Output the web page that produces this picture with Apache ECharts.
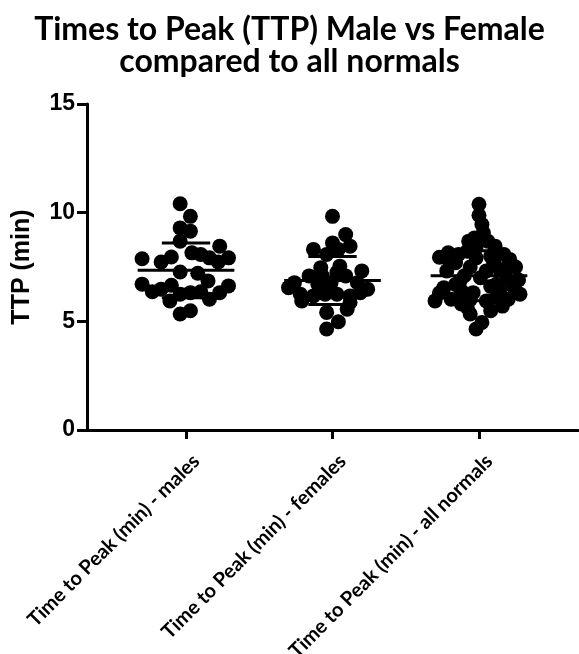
<!DOCTYPE html>
<html lang="en">
<head>
<meta charset="UTF-8">
<title>TTP</title>
<script src="https://cdn.jsdelivr.net/npm/echarts@6.0.0/dist/echarts.min.js"></script>
<style>
  html, body { margin: 0; padding: 0; background: #fff; }
  #chart { width: 579px; height: 654px; }
</style>
</head>
<body>
<div id="chart"></div>
<script>
// group names (x axis)
var groups = ['Time to Peak (min) - males', 'Time to Peak (min) - females', 'Time to Peak (min) - all normals'];

// points: [jitter offset from the group centre, TTP value]
var males = [
  [-0.04, 10.41], [0.03, 9.83], [-0.04, 9.30], [0.03, 9.15], [-0.04, 8.69],
  [0.23, 8.46], [-0.30, 7.88], [-0.17, 7.73], [-0.10, 7.96], [0.04, 8.15],
  [0.10, 8.08], [0.16, 7.92], [0.22, 7.73], [0.29, 7.92], [-0.04, 7.27],
  [0.08, 7.21], [0.15, 6.86], [-0.30, 6.71], [-0.23, 6.36], [-0.17, 6.48],
  [-0.10, 6.66], [-0.11, 5.94], [-0.04, 6.25], [0.03, 6.32], [0.10, 6.36],
  [0.16, 6.02], [0.23, 6.32], [0.29, 6.63], [-0.04, 5.34], [0.03, 5.49]
];
var females = [
  [0.00, 9.83], [0.09, 8.99], [0.00, 8.61], [0.12, 8.46], [-0.13, 8.31],
  [0.04, 8.31], [-0.04, 8.08], [-0.08, 7.47], [0.20, 7.32], [0.03, 7.24],
  [0.09, 7.09], [-0.26, 6.78], [-0.30, 6.55], [-0.16, 7.09], [-0.10, 6.71],
  [-0.01, 6.78], [0.17, 6.78], [0.24, 6.48], [-0.22, 6.25], [-0.21, 5.94],
  [-0.13, 6.17], [-0.05, 6.25], [0.03, 6.25], [0.12, 6.17], [0.19, 6.32],
  [-0.04, 5.41], [0.04, 4.98], [0.10, 5.56], [-0.04, 4.65], [-0.07, 7.09],
  [0.05, 7.54], [0.12, 5.87]
];
var allNormals = [
  [0.00, 10.39], [0.00, 9.88], [0.02, 9.45], [0.03, 9.07], [-0.07, 8.69],
  [0.06, 8.69], [-0.03, 8.84], [0.11, 8.46], [-0.21, 8.15], [-0.14, 8.08],
  [0.17, 8.08], [-0.08, 8.23], [0.21, 7.85], [-0.21, 7.85], [-0.02, 7.92],
  [0.08, 8.00], [-0.16, 7.70], [0.21, 7.70], [-0.24, 6.55], [-0.30, 5.94],
  [-0.19, 6.02], [0.28, 6.25], [0.20, 6.02], [0.12, 6.10], [0.05, 5.94],
  [-0.08, 5.64], [0.08, 5.49], [-0.06, 5.34], [0.02, 4.95], [-0.02, 4.65],
  [-0.13, 6.86], [0.01, 7.01], [0.12, 6.71], [0.23, 6.63], [-0.04, 6.32],
  [0.19, 6.94], [-0.22, 7.32], [0.05, 7.32], [-0.06, 7.50], [0.14, 7.40],
  [-0.27, 6.30], [-0.12, 6.40], [0.14, 6.40], [-0.10, 7.10], [-0.16, 6.70],
  [0.08, 6.60], [-0.06, 6.00], [0.18, 7.30], [0.25, 7.50], [-0.27, 7.95],
  [0.27, 6.90], [-0.02, 8.40], [0.10, 7.70], [-0.12, 5.80], [0.16, 5.70]
];

// mean and SD per group
var means = [7.35, 6.88, 7.10];
var sds = [1.26, 1.10, 1.15];

var yTicks = [0, 5, 10, 15];

var pointSets = [males, females, allNormals];
var tickPos = [1, 2, 3];
// rotated labels sit a little right of their tick in the original
var labelPos = tickPos.map(function (t) { return t + 0.07; });

function toXY(set, gi) {
  return set.map(function (p) { return [tickPos[gi] + p[0], p[1]]; });
}

var chart = echarts.init(document.getElementById('chart'));

var series = pointSets.map(function (set, gi) {
  return {
    type: 'scatter',
    data: toXY(set, gi),
    symbol: 'circle',
    symbolSize: 15,
    itemStyle: { color: '#000', opacity: 1 },
    z: 2
  };
});

// mean line (wide) and SD lines (narrow)
series.push({
  type: 'custom',
  z: 5,
  data: means.map(function (m, i) { return [tickPos[i], m, sds[i]]; }),
  renderItem: function (params, api) {
    var x = api.value(0), m = api.value(1), s = api.value(2);
    var style = { stroke: '#000', lineWidth: 3 };
    function seg(half, y) {
      var a = api.coord([x - half, y]);
      var b = api.coord([x + half, y]);
      return { type: 'line', shape: { x1: a[0], y1: a[1], x2: b[0], y2: b[1] }, style: style };
    }
    return {
      type: 'group',
      children: [seg(0.33, m), seg(0.165, m + s), seg(0.165, m - s)]
    };
  }
});

var option = {
  animation: false,
  title: {
    text: 'Times to Peak (TTP) Male vs Female\ncompared to all normals',
    left: 'center',
    top: 9,
    textStyle: {
      fontFamily: 'Lato',
      fontWeight: 'bold',
      fontSize: 32,
      lineHeight: 32,
      color: '#000'
    }
  },
  grid: { left: 87, right: 1, top: 104, bottom: 224, containLabel: false, outerBoundsMode: 'none' },
  xAxis: {
    type: 'value',
    min: 0.324,
    max: 3.676,
    splitLine: { show: false },
    axisLine: { lineStyle: { color: '#000', width: 3 } },
    axisTick: {
      show: true, length: 9, inside: false,
      lineStyle: { color: '#000', width: 3 },
      customValues: tickPos
    },
    axisLabel: {
      customValues: labelPos,
      rotate: 45,
      margin: 28,
      fontFamily: 'Lato',
      fontWeight: 'bold',
      fontSize: 20,
      color: '#000',
      formatter: function (v) { return groups[Math.round(v) - 1] || ''; }
    }
  },
  yAxis: {
    type: 'value',
    min: 0,
    max: 15,
    interval: 5,
    name: 'TTP (min)',
    nameLocation: 'middle',
    nameGap: 52,
    nameTextStyle: {
      fontFamily: 'Liberation Sans',
      fontWeight: 'bold',
      fontSize: 25,
      color: '#000'
    },
    splitLine: { show: false },
    axisLine: { show: true, lineStyle: { color: '#000', width: 3 } },
    axisTick: { show: true, length: 10, lineStyle: { color: '#000', width: 3 } },
    axisLabel: {
      margin: 12,
      fontFamily: 'Liberation Sans',
      fontWeight: 'bold',
      fontSize: 23,
      color: '#000',
      formatter: function (v) { return yTicks.indexOf(v) >= 0 ? String(v) : ''; }
    }
  },
  series: series
};

chart.setOption(option);
</script>
</body>
</html>
